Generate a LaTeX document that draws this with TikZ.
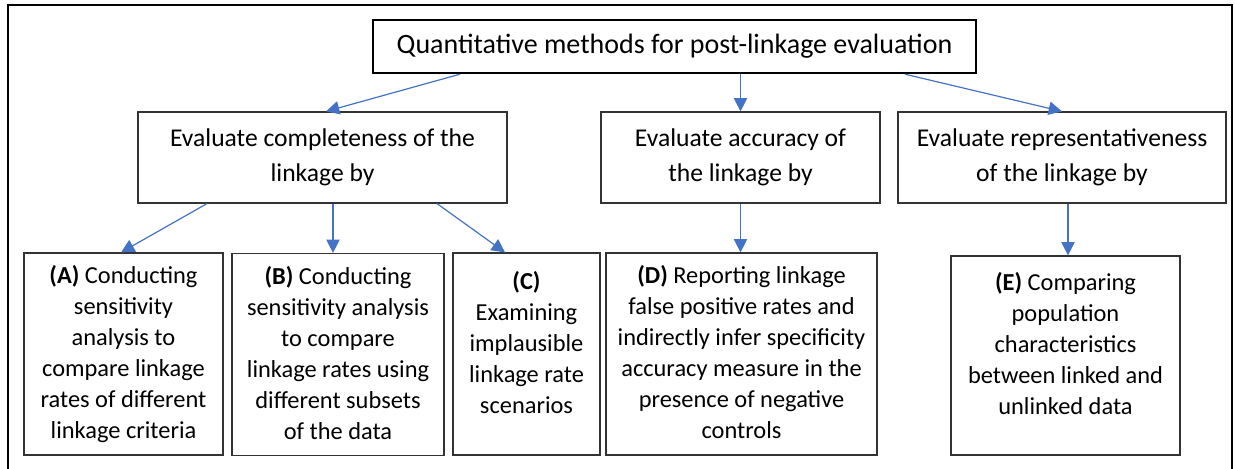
\documentclass[tikz,border=0pt]{standalone}
\usepackage{fontspec}
\setmainfont{Carlito}
\usetikzlibrary{arrows.meta,calc}
\definecolor{officeblue}{RGB}{68,114,196}
\begin{document}
\begin{tikzpicture}[x=0.75pt,y=-0.75pt,
    root/.style={draw=black,line width=1.8pt,minimum width=603*0.75pt,minimum height=53*0.75pt,
      inner sep=0pt,font=\fontsize{21}{26}\selectfont},
    aim/.style={draw=black!80,line width=0.9pt,minimum height=91*0.75pt,inner sep=0pt,
      align=center,font=\fontsize{19.2}{26.25}\selectfont},
    leaf/.style={draw=black!80,line width=0.9pt,minimum height=202*0.75pt,inner sep=0pt},
    leaftxt/.style={anchor=north,inner sep=0pt,align=center,font=\fontsize{18.3}{23.25}\selectfont},
    link/.style={draw=officeblue,line width=0.9pt,-{Triangle[length=10pt,width=10pt]}}]
  \useasboundingbox (0,0) rectangle (1235,468);
  \draw[line width=1.5pt] (8,475) -- (8,5) -- (1232,5) -- (1232,475);
  % top and second row
  \node[root] (top) at (674.5,46.5) {Quantitative methods for post-linkage evaluation};
  \node[aim,minimum width=369*0.75pt] (comp) at (322.5,157.5) {Evaluate completeness of the\\linkage by};
  \node[aim,minimum width=279*0.75pt] (acc) at (740.5,157.5) {Evaluate accuracy of\\the linkage by};
  \node[aim,minimum width=328*0.75pt] (rep) at (1062,157.5) {Evaluate representativeness\\of the linkage by};
  % leaves
  \node[leaf,minimum width=199*0.75pt] (a) at (123.5,354) {};
  \node[leaf,minimum width=212*0.75pt] (b) at (338,354.5) {};
  \node[leaf,minimum width=147*0.75pt] (c) at (526.5,354) {};
  \node[leaf,minimum width=271*0.75pt] (d) at (741.5,354) {};
  \node[leaf,minimum width=229*0.75pt,minimum height=199*0.75pt] (e) at (1065.5,355.5) {};
  \node[leaftxt] (ta) at ($(a.north)+(0,13)$) {\textbf{(A)} Conducting\\sensitivity\\analysis to\\compare linkage\\rates of different\\linkage criteria};
  \node[leaftxt] (tb) at ($(b.north)+(0,13)$) {\textbf{(B)} Conducting\\sensitivity analysis\\to compare\\linkage rates using\\different subsets\\of the data};
  \node[leaftxt] (tc) at ($(c.north)+(0,19)$) {\textbf{(C)}\\Examining\\implausible\\linkage rate\\scenarios};
  \node[leaftxt] (td) at ($(d.north)+(0,13)$) {\textbf{(D)} Reporting linkage\\false positive rates and\\indirectly infer specificity\\accuracy measure in the\\presence of negative\\controls};
  \node[leaftxt] (te) at ($(e.north)+(0,17)$) {\textbf{(E)} Comparing\\population\\characteristics\\between linked and\\unlinked data};
  % arrows
  \draw[link] ($(top.south)+(-214.5,0)$) -- ($(comp.north)+(3.5,0)$);
  \draw[link] ($(top.south)+(66,0)$) -- (acc.north);
  \draw[link] ($(top.south)+(230.5,0)$) -- (rep.north);
  \draw[link] ($(comp.south)+(-115.5,0)$) -- ($(a.north)+(-2.5,0)$);
  \draw[link] ($(comp.south)+(10.5,0)$) -- ($(b.north)+(-5,0)$);
  \draw[link] ($(comp.south)+(114.5,0)$) -- ($(c.north)+(-21.5,0)$);
  \draw[link] (acc.south) -- ($(d.north)+(-1,0)$);
  \draw[link] ($(rep.south)+(6,0)$) -- ($(e.north)+(2.5,0)$);
\end{tikzpicture}
\end{document}
